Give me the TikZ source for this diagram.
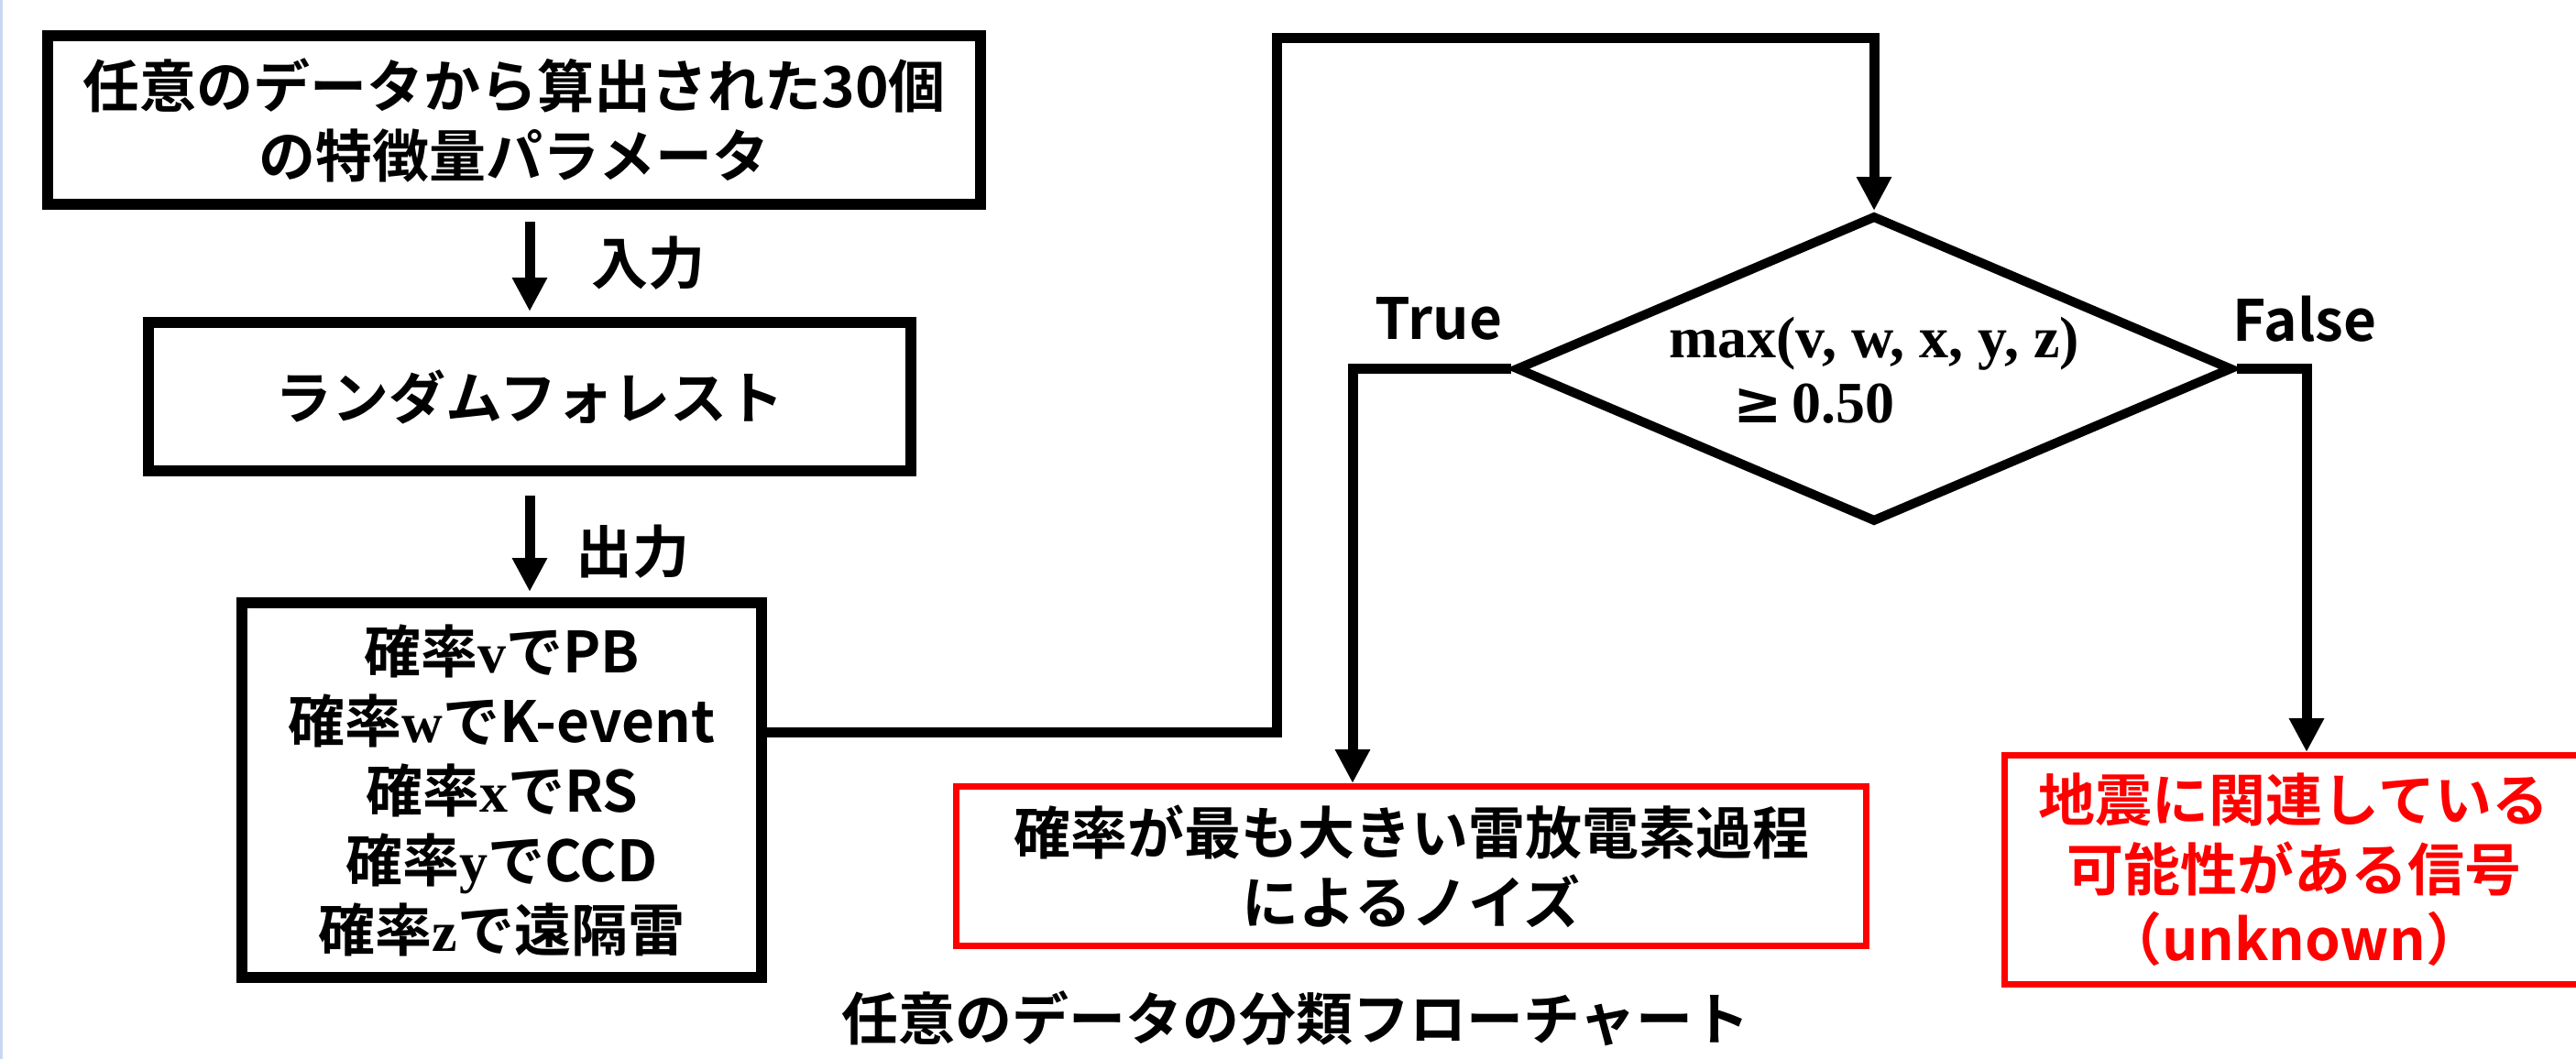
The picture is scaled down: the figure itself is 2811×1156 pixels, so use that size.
\documentclass[tikz,border=0pt]{standalone}
\usepackage[no-math]{fontspec}
\newfontfamily\jp{Noto Sans CJK JP}[BoldFont={Noto Sans CJK JP Bold}]
\newfontfamily\djs{DejaVu Serif}
\newfontfamily\serb{Liberation Serif Bold}
\usetikzlibrary{arrows.meta,shapes.geometric,calc}
\definecolor{edgeblue}{HTML}{C9D7F0}
\definecolor{sigred}{HTML}{FF0000}
\newcommand{\vb}[1]{{\serb #1}}
\begin{document}
\begin{tikzpicture}[x=0.5pt,y=-0.5pt,
  txt/.style={font=\jp\bfseries\fontsize{31}{38}\selectfont, align=center, inner sep=0pt},
  blackbox/.style={txt, draw=black, line width=6pt, rectangle},
  redbox/.style={txt, draw=sigred, line width=3.5pt, rectangle},
  conn/.style={line width=5.5pt, draw=black},
  arr/.style={conn, -{Triangle[width=18pt,length=18.5pt]}},
  mathtxt/.style={font=\serb\fontsize{32}{38}\selectfont, inner sep=0pt},
]
\useasboundingbox (0,0) rectangle (2811,1156);
\fill[edgeblue] (0,0) rectangle (3,1156);

\node[blackbox, minimum width=509pt, minimum height=92pt] (b1) at (561,131)
  {任意のデータから算出された30個\\の特徴量パラメータ};
\node[blackbox, minimum width=416pt, minimum height=81pt] (b2) at (578,433)
  {ランダムフォレスト};
\node[blackbox, minimum width=283.5pt, minimum height=204.5pt] (b3) at (547.5,862.5)
  {確率\vb{v}でPB\\確率\vb{w}でK-event\\確率\vb{x}でRS\\確率\vb{y}でCCD\\確率\vb{z}で遠隔雷};

\node[draw=black, line width=5pt, diamond, minimum width=391pt, minimum height=167.5pt, inner sep=0pt] (dia) at (2045,402.5) {};
\node[mathtxt] (m1) at (2045,375) {max(v, w, x, y, z)};
\node[mathtxt, anchor=west] (m2) at (1891,441) {{\djs\bfseries ≥}\,0.50};

\node[redbox, minimum width=496.5pt, minimum height=87pt] (rb1) at (1540,945.5)
  {確率が最も大きい雷放電素過程\\によるノイズ};
\node[redbox, text=sigred, minimum width=315.5pt, minimum height=125pt] (rb2) at (2503,949.5)
  {地震に関連している\\可能性がある信号\\（unknown）};

\node[txt, anchor=west] (lin) at (645,287) {入力};
\node[txt, anchor=west] (lout) at (628,602) {出力};
\node[txt] (ltrue) at (1570,348) {True};
\node[txt] (lfalse) at (2515,348) {False};
\node[txt] (cap) at (1414,1112) {任意のデータの分類フローチャート};

\coordinate (r1) at (1393,42);
\draw[arr] ($(b2.north |- b1.south)+(0,13)$) -- ([yshift=3pt]b2.north);
\draw[arr] ($(b2.south)+(0,21)$) -- ([yshift=3pt]b2.south |- b3.north);
\draw[arr] ([yshift=31.75pt]b3.east) -| (r1) -| (dia.north);
\draw[arr] (dia.west) -| ([xshift=-32pt]rb1.north);
\draw[arr] (dia.east) -| ([xshift=7pt]rb2.north);
\end{tikzpicture}
\end{document}
